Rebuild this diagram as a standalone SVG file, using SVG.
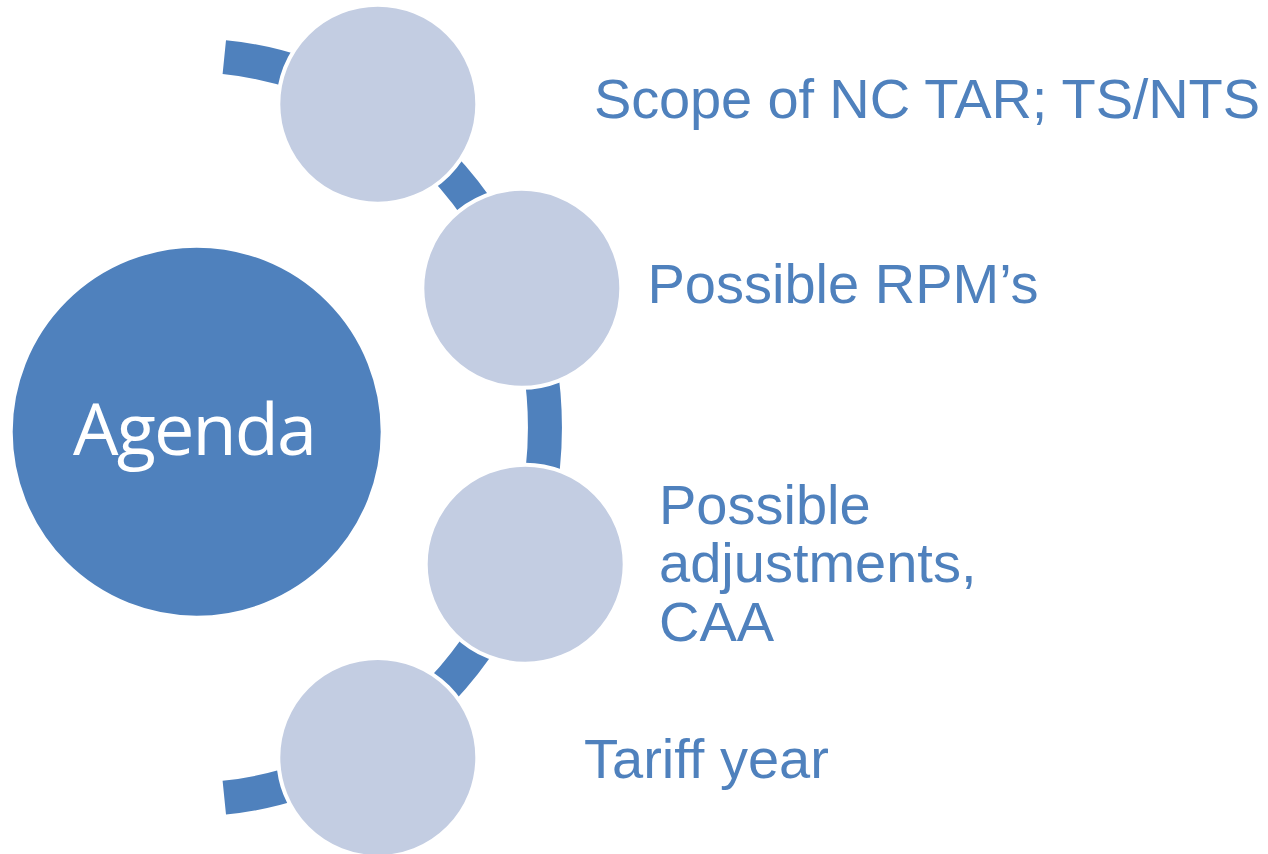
<svg xmlns="http://www.w3.org/2000/svg" width="1268" height="854" viewBox="0 0 1268 854">
  <style>
    .band { fill: none; stroke: #4F81BD; stroke-width: 34; stroke-linecap: butt; }
    .item { fill: #C3CDE2; stroke: #FFFFFF; stroke-width: 4; }
    .hub { fill: #4F81BD; stroke: #FFFFFF; stroke-width: 2; }
    .hubtxt { font-family: "Open Sans", "Liberation Sans", sans-serif; font-size: 72px; fill: #FFFFFF; text-anchor: middle; }
    .lbl { font-family: "Liberation Sans", Arial, sans-serif; font-size: 56px; fill: #4F81BD; }
  </style>
  <rect width="1268" height="854" fill="#FFFFFF"/>
  <g id="connectors">
    <path class="band" d="M 224.3 57.1 A 354.5 372 0 0 1 224.3 797.7"/>
  </g>
  <g id="hub">
    <circle class="hub" cx="196.7" cy="431.7" r="185"/>
    <text class="hubtxt" x="195" y="455" textLength="244">Agenda</text>
  </g>
  <g id="item1">
    <circle class="item" cx="377.8" cy="104.2" r="99.5"/>
    <text class="lbl" x="594" y="118" textLength="666">Scope of NC TAR; TS/NTS</text>
  </g>
  <g id="item2">
    <circle class="item" cx="521.8" cy="288.3" r="99.5"/>
    <text class="lbl" x="647.5" y="303.3">Possible RPM’s</text>
  </g>
  <g id="item3">
    <circle class="item" cx="525.2" cy="564.2" r="99.5"/>
    <text class="lbl" x="659">
      <tspan x="659" y="523.5">Possible</tspan>
      <tspan x="659" y="581.5">adjustments,</tspan>
      <tspan x="659" y="640.5">CAA</tspan>
    </text>
  </g>
  <g id="item4">
    <circle class="item" cx="377.8" cy="757.5" r="99.5"/>
    <text class="lbl" x="584" y="778.3">Tariff year</text>
  </g>
</svg>
